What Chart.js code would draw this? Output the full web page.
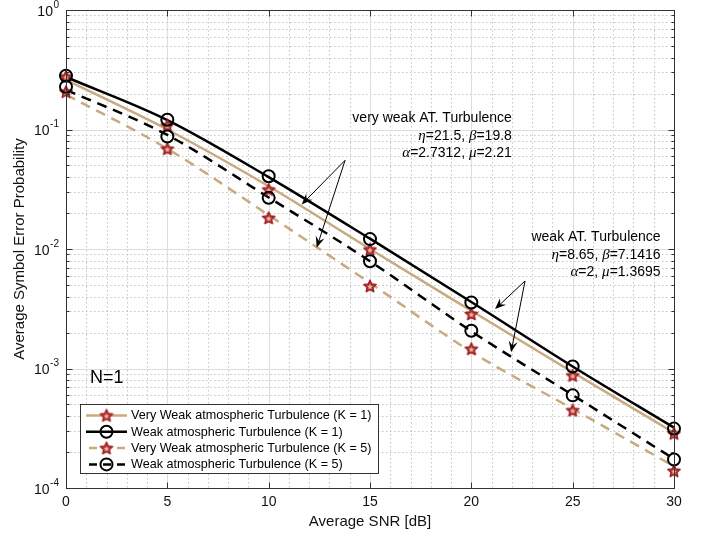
<!DOCTYPE html>
<html>
<head>
<meta charset="utf-8">
<script src="https://cdn.jsdelivr.net/npm/chart.js@4"></script>
<style>
  body { margin: 0; background: #fff; }
</style>
</head>
<body>
<canvas id="chart" width="707" height="537"></canvas>
<script>
// x values (Average SNR in dB)
const snr = [0, 5, 10, 15, 20, 25, 30];

// analytic curves
const veryWeakK1 = [0.260, 0.100, 0.0335, 0.0100, 0.00304, 0.00093, 0.00029];
const weakK1 = [0.275, 0.120, 0.0400, 0.0122, 0.00360, 0.00104, 0.00032];
const veryWeakK5 = [0.196, 0.069, 0.0192, 0.0052, 0.00138, 0.00046, 0.000152];
const weakK5 = [0.215, 0.090, 0.0270, 0.0079, 0.00205, 0.00060, 0.000175];

// simulation points (markers)
const veryWeakK1Sim = [0.277, 0.108, 0.0314, 0.0099, 0.00286, 0.000874, 0.000286];
const weakK1Sim = [0.282, 0.1205, 0.0406, 0.0121, 0.00357, 0.00104, 0.000314];
const veryWeakK5Sim = [0.207, 0.069, 0.0182, 0.0049, 0.00146, 0.000447, 0.000139];
const weakK5Sim = [0.228, 0.0875, 0.0268, 0.0079, 0.00207, 0.000596, 0.000173];

// axis ticks
const xTicks = [0, 5, 10, 15, 20, 25, 30];
const yExponents = [-4, -3, -2, -1, 0];

const legendLabels = [
    'Very Weak atmospheric Turbulence (K = 1)',
    'Weak atmospheric Turbulence (K = 1)',
    'Very Weak atmospheric Turbulence (K = 5)',
    'Weak atmospheric Turbulence (K = 5)'
];

const TAN = '#c9a97f';
const FONT = '"Liberation Sans", Arial, Helvetica, sans-serif';

function starPath(g, cx, cy, R, ratio) {
    g.beginPath();
    for (let i = 0; i < 10; i++) {
        const a = -Math.PI / 2 + i * Math.PI / 5;
        const rad = i % 2 ? R * ratio : R;
        g.lineTo(cx + rad * Math.cos(a), cy + rad * Math.sin(a));
    }
    g.closePath();
}

// pentagram marker: red body, small light centre
function makeStar(size) {
    const c = document.createElement('canvas');
    c.width = c.height = size;
    const g = c.getContext('2d');
    const cx = size / 2, cy = size / 2 + 0.5, R = size / 2 - 1.5;
    starPath(g, cx, cy, R, 0.47);
    g.fillStyle = '#bd3a3c';
    g.fill();
    g.lineWidth = 1.4;
    g.lineJoin = 'round';
    g.strokeStyle = '#9e1f28';
    g.stroke();
    starPath(g, cx, cy + 0.3, R * 0.42, 0.5);
    g.fillStyle = '#e3c39c';
    g.fill();
    return c;
}
const starImg = makeStar(16);

function pts(ys) {
    return snr.map((x, i) => ({ x: x, y: ys[i] }));
}

function lineSet(label, ys, color, dashed) {
    return {
        label: label,
        data: pts(ys),
        borderColor: color,
        borderWidth: 2.5,
        borderDash: dashed ? [10, 7] : [],
        pointRadius: 0,
        cubicInterpolationMode: 'monotone',
        fill: false,
        order: 2
    };
}

function markerSet(ys, style) {
    const circle = style === 'circle';
    return {
        data: pts(ys),
        showLine: false,
        pointStyle: circle ? 'circle' : starImg,
        pointRadius: circle ? 6 : 8,
        borderColor: '#000',
        borderWidth: 2,
        backgroundColor: 'rgba(0,0,0,0)',
        order: circle ? 0 : 1
    };
}

// text annotations, anchored at data coords (right aligned)
const notes = [
    { x: 22.0, y: 0.124, lines: [
        [['very weak AT. Turbulence', 0]],
        [['η', 1], ['=21.5, ', 0], ['β', 1], ['=19.8', 0]],
        [['α', 1], ['=2.7312, ', 0], ['μ', 1], ['=2.21', 0]]
    ]},
    { x: 29.34, y: 0.01247, lines: [
        [['weak AT. Turbulence', 0]],
        [['η', 1], ['=8.65, ', 0], ['β', 1], ['=7.1416', 0]],
        [['α', 1], ['=2, ', 0], ['μ', 1], ['=1.3695', 0]]
    ]}
];
const arrows = [
    { from: [13.77, 0.0552], to: [[11.63, 0.02357], [12.37, 0.01026]] },
    { from: [22.65, 0.0054], to: [[21.17, 0.00314], [21.96, 0.001367]] }
];

function segFont(italic) {
    return italic ? 'italic 15px "Liberation Serif", "DejaVu Serif", serif' : '14px ' + FONT;
}

function drawRich(ctx, segs, right, y) {
    let w = 0;
    segs.forEach(s => { ctx.font = segFont(s[1]); w += ctx.measureText(s[0]).width; });
    let x = right - w;
    segs.forEach(s => {
        ctx.font = segFont(s[1]);
        ctx.fillText(s[0], x, y);
        x += ctx.measureText(s[0]).width;
    });
}

function drawArrow(ctx, x0, y0, x1, y1) {
    const ang = Math.atan2(y1 - y0, x1 - x0);
    const len = 11, half = 4.5;
    ctx.beginPath();
    ctx.moveTo(x0, y0);
    ctx.lineTo(x1 - Math.cos(ang) * 6, y1 - Math.sin(ang) * 6);
    ctx.stroke();
    ctx.beginPath();
    ctx.moveTo(x1, y1);
    ctx.lineTo(x1 - len * Math.cos(ang) + half * Math.sin(ang), y1 - len * Math.sin(ang) - half * Math.cos(ang));
    ctx.lineTo(x1 - 7 * Math.cos(ang), y1 - 7 * Math.sin(ang));
    ctx.lineTo(x1 - len * Math.cos(ang) - half * Math.sin(ang), y1 - len * Math.sin(ang) + half * Math.cos(ang));
    ctx.closePath();
    ctx.fill();
}

// grid + axes box, drawn under the data
const gridPlugin = {
    id: 'matlabGrid',
    beforeDatasetsDraw(chart) {
        const ctx = chart.ctx;
        const a = chart.chartArea;
        const xs = chart.scales.x, ys = chart.scales.y;
        ctx.save();
        // minor grid (dotted)
        ctx.strokeStyle = '#c4c4c4';
        ctx.lineWidth = 1;
        ctx.setLineDash([1.5, 2.5]);
        for (let v = 1; v < 30; v++) {
            if (v % 5 === 0) continue;
            const px = Math.round(xs.getPixelForValue(v)) + 0.5;
            ctx.beginPath(); ctx.moveTo(px, a.top); ctx.lineTo(px, a.bottom); ctx.stroke();
        }
        for (let k = -4; k < 0; k++) {
            for (let m = 2; m <= 9; m++) {
                const py = Math.round(ys.getPixelForValue(m * Math.pow(10, k))) + 0.5;
                ctx.beginPath(); ctx.moveTo(a.left, py); ctx.lineTo(a.right, py); ctx.stroke();
            }
        }
        // major grid (solid)
        ctx.setLineDash([]);
        ctx.strokeStyle = '#dddddd';
        xTicks.slice(1, -1).forEach(v => {
            const px = Math.round(xs.getPixelForValue(v)) + 0.5;
            ctx.beginPath(); ctx.moveTo(px, a.top); ctx.lineTo(px, a.bottom); ctx.stroke();
        });
        yExponents.slice(1, -1).forEach(e => {
            const py = Math.round(ys.getPixelForValue(Math.pow(10, e))) + 0.5;
            ctx.beginPath(); ctx.moveTo(a.left, py); ctx.lineTo(a.right, py); ctx.stroke();
        });
        ctx.restore();
    },
    afterDatasetsDraw(chart) {
        const ctx = chart.ctx;
        const a = chart.chartArea;
        const xs = chart.scales.x, ys = chart.scales.y;
        ctx.save();
        ctx.strokeStyle = '#333333';
        ctx.lineWidth = 1;
        const L = Math.round(a.left) + 0.5, R = Math.round(a.right) + 0.5;
        const T = Math.round(a.top) + 0.5, B = Math.round(a.bottom) + 0.5;
        ctx.strokeRect(L, T, R - L, B - T);
        // x ticks (major only, inward, bottom and top)
        xTicks.forEach(v => {
            const px = Math.round(xs.getPixelForValue(v)) + 0.5;
            ctx.beginPath();
            ctx.moveTo(px, B); ctx.lineTo(px, B - 6);
            ctx.moveTo(px, T); ctx.lineTo(px, T + 6);
            ctx.stroke();
        });
        // y ticks (major + minor, left and right)
        for (let k = -4; k <= 0; k++) {
            for (let m = 1; m <= 9; m++) {
                if (k === 0 && m > 1) break;
                const py = Math.round(ys.getPixelForValue(m * Math.pow(10, k))) + 0.5;
                const len = m === 1 ? 6 : 3;
                ctx.beginPath();
                ctx.moveTo(L, py); ctx.lineTo(L + len, py);
                ctx.moveTo(R, py); ctx.lineTo(R - len, py);
                ctx.stroke();
            }
        }
        // tick labels
        ctx.fillStyle = '#111';
        ctx.textBaseline = 'middle';
        ctx.textAlign = 'center';
        ctx.font = '14px ' + FONT;
        xTicks.forEach(v => ctx.fillText(String(v), xs.getPixelForValue(v), a.bottom + 14));
        yExponents.forEach(e => {
            const py = ys.getPixelForValue(Math.pow(10, e));
            const exp = String(e);
            ctx.font = '10px ' + FONT;
            const ew = ctx.measureText(exp).width;
            ctx.textAlign = 'right';
            ctx.fillText(exp, a.left - 7, py - 5);
            ctx.font = '14px ' + FONT;
            ctx.fillText('10', a.left - 7 - ew - 0.5, py + 2);
        });
        // axis titles
        ctx.textAlign = 'center';
        ctx.font = '15px ' + FONT;
        ctx.fillText('Average SNR [dB]', (a.left + a.right) / 2, a.bottom + 34);
        ctx.save();
        ctx.translate(20, (a.top + a.bottom) / 2);
        ctx.rotate(-Math.PI / 2);
        ctx.fillText('Average Symbol Error Probability', 0, 0);
        ctx.restore();

        // annotations
        ctx.fillStyle = '#000';
        ctx.textAlign = 'left';
        notes.forEach(n => {
            const right = xs.getPixelForValue(n.x);
            const top = ys.getPixelForValue(n.y);
            n.lines.forEach((segs, i) => drawRich(ctx, segs, right, top + i * 17.5));
        });
        ctx.strokeStyle = '#000';
        ctx.lineWidth = 1;
        arrows.forEach(ar => {
            const x0 = xs.getPixelForValue(ar.from[0]), y0 = ys.getPixelForValue(ar.from[1]);
            ar.to.forEach(t => drawArrow(ctx, x0, y0, xs.getPixelForValue(t[0]), ys.getPixelForValue(t[1])));
        });
        ctx.font = '18px ' + FONT;
        ctx.fillText('N=1', xs.getPixelForValue(1.18), ys.getPixelForValue(0.000826));

        // legend box
        const bx = 80.5, by = 404.5, bw = 298, bh = 69;
        ctx.fillStyle = '#fff';
        ctx.fillRect(bx, by, bw, bh);
        ctx.strokeStyle = '#333';
        ctx.strokeRect(bx, by, bw, bh);
        const styles = [
            { color: TAN, dash: [], marker: 'star' },
            { color: '#000', dash: [], marker: 'circle' },
            { color: TAN, dash: [8, 6], marker: 'star' },
            { color: '#000', dash: [8, 6], marker: 'circle' }
        ];
        legendLabels.forEach((lab, i) => {
            const cy = by + 11 + i * 16.3;
            const s = styles[i];
            ctx.strokeStyle = s.color;
            ctx.lineWidth = 2.5;
            ctx.setLineDash(s.dash);
            ctx.lineDashOffset = s.dash.length ? -3 : 0;
            ctx.beginPath(); ctx.moveTo(86, cy); ctx.lineTo(127, cy); ctx.stroke();
            ctx.setLineDash([]);
            if (s.marker === 'star') {
                ctx.drawImage(starImg, 106.5 - 8, cy - 8);
            } else {
                ctx.strokeStyle = '#000';
                ctx.lineWidth = 2;
                ctx.beginPath(); ctx.arc(106.5, cy, 6, 0, Math.PI * 2); ctx.stroke();
            }
            ctx.fillStyle = '#000';
            ctx.font = '12.6px ' + FONT;
            ctx.textAlign = 'left';
            ctx.fillText(lab, 131, cy + 0.5);
        });
        ctx.restore();
    }
};

new Chart(document.getElementById('chart'), {
    type: 'line',
    data: {
        datasets: [
            lineSet(legendLabels[0], veryWeakK1, TAN, false),
            lineSet(legendLabels[1], weakK1, '#000', false),
            lineSet(legendLabels[2], veryWeakK5, TAN, true),
            lineSet(legendLabels[3], weakK5, '#000', true),
            markerSet(veryWeakK1Sim, 'star'),
            markerSet(weakK1Sim, 'circle'),
            markerSet(veryWeakK5Sim, 'star'),
            markerSet(weakK5Sim, 'circle')
        ]
    },
    options: {
        responsive: false,
        animation: false,
        devicePixelRatio: 1,
        layout: { padding: { left: 66, right: 33, top: 8, bottom: 49 } },
        scales: {
            x: { type: 'linear', min: 0, max: 30, display: false },
            y: { type: 'logarithmic', min: 1e-4, max: 1, display: false }
        },
        plugins: {
            legend: { display: false },
            tooltip: { enabled: false }
        },
        clip: false
    },
    plugins: [gridPlugin]
});
</script>
</body>
</html>
